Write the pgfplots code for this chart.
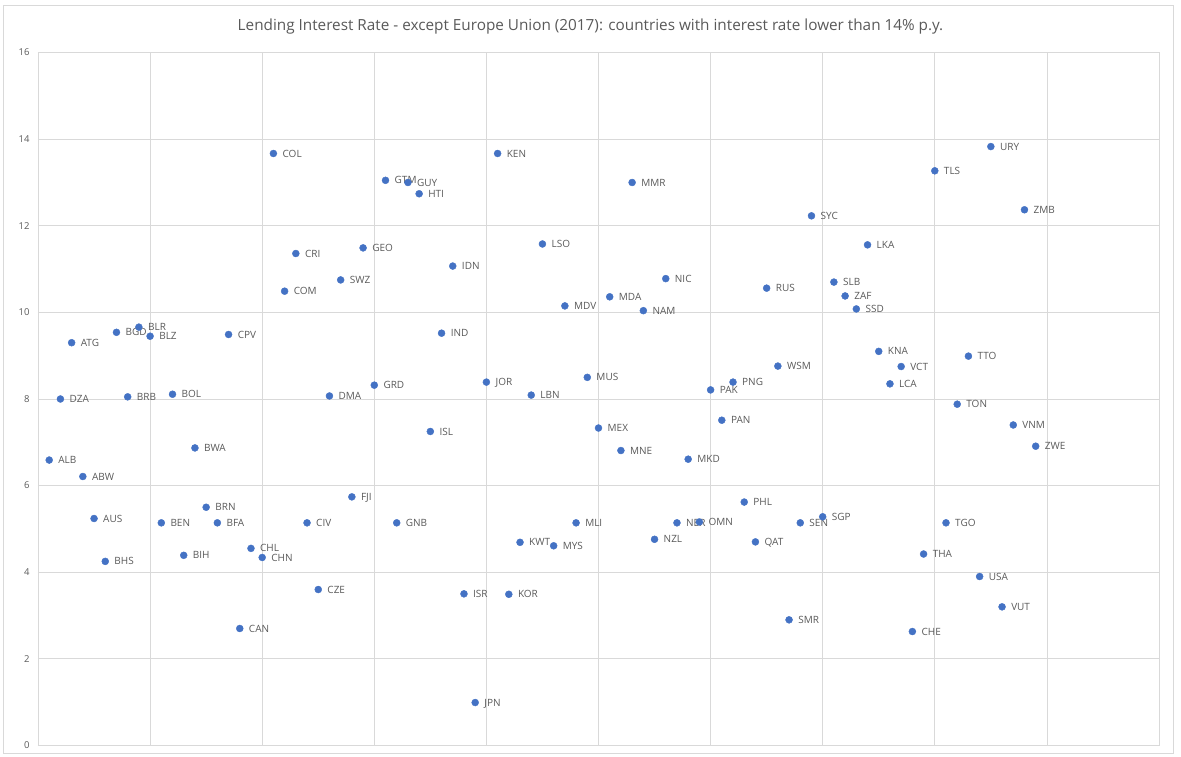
\documentclass[border=0pt]{standalone}
\usepackage{pgfplots}
\pgfplotsset{compat=1.18}
\usepackage{pgfplotstable}
\usepackage{fontspec}
\setmainfont{Open Sans}
\definecolor{ptblue}{HTML}{4472C4}
\definecolor{txtgray}{HTML}{595959}
\definecolor{gridgray}{HTML}{D9D9D9}
\pgfplotstableread{
x y lab
1 6.59 ALB
2 8.00 DZA
3 9.30 ATG
4 6.21 ABW
5 5.24 AUS
6 4.25 BHS
7 9.54 BGD
8 8.05 BRB
9 9.66 BLR
10 9.45 BLZ
11 5.14 BEN
12 8.11 BOL
13 4.39 BIH
14 6.87 BWA
15 5.50 BRN
16 5.14 BFA
17 9.49 CPV
18 2.70 CAN
19 4.55 CHL
20 4.34 CHN
21 13.67 COL
22 10.49 COM
23 11.36 CRI
24 5.14 CIV
25 3.60 CZE
26 8.07 DMA
27 10.75 SWZ
28 5.74 FJI
29 11.49 GEO
30 8.32 GRD
31 13.05 GTM
32 5.14 GNB
33 13.00 GUY
34 12.74 HTI
35 7.25 ISL
36 9.52 IND
37 11.07 IDN
38 3.50 ISR
39 0.99 JPN
40 8.39 JOR
41 13.67 KEN
42 3.49 KOR
43 4.69 KWT
44 8.09 LBN
45 11.58 LSO
46 4.61 MYS
47 10.15 MDV
48 5.14 MLI
49 8.50 MUS
50 7.33 MEX
51 10.36 MDA
52 6.81 MNE
53 13.00 MMR
54 10.04 NAM
55 4.76 NZL
56 10.78 NIC
57 5.14 NER
58 6.61 MKD
59 5.16 OMN
60 8.21 PAK
61 7.51 PAN
62 8.39 PNG
63 5.62 PHL
64 4.70 QAT
65 10.56 RUS
66 8.76 WSM
67 2.90 SMR
68 5.14 SEN
69 12.23 SYC
70 5.28 SGP
71 10.70 SLB
72 10.38 ZAF
73 10.08 SSD
74 11.56 LKA
75 9.10 KNA
76 8.35 LCA
77 8.75 VCT
78 2.63 CHE
79 4.42 THA
80 13.27 TLS
81 5.14 TGO
82 7.88 TON
83 8.99 TTO
84 3.90 USA
85 13.83 URY
86 3.20 VUT
87 7.40 VNM
88 12.37 ZMB
89 6.91 ZWE
}\datatable
\begin{document}
\begin{tikzpicture}[x=1pt,y=1pt]
\path[use as bounding box] (0,0) rectangle (1181,756);
\draw[gridgray, line width=0.75pt] (3,3) rectangle (1173,751);
\node[text=txtgray, font=\fontsize{15.3}{18}\selectfont] at (590.5,729) {Lending Interest Rate - except Europe Union (2017): countries with interest rate lower than 14\% p.y.};
\begin{axis}[
  at={(38pt,10.6pt)}, anchor=south west,
  scale only axis, width=1121pt, height=692.8pt,
  xmin=0, xmax=100, ymin=0, ymax=16,
  xtick={10,20,...,100}, xticklabels={},
  ytick={0,2,...,16},
  major tick length=0pt,
  xmajorgrids, ymajorgrids,
  grid style={gridgray, line width=0.75pt},
  axis line style={gridgray, line width=0.75pt},
  /pgf/number format/assume math mode=true,
  yticklabel style={font=\fontsize{9.5}{11}\selectfont, text=txtgray, xshift=-5pt},
  clip=false,
]
\addplot[only marks, mark=*, mark size=3.5pt, mark options={fill=ptblue, draw=ptblue},
  point meta=explicit symbolic,
  nodes near coords={\pgfplotspointmeta},
  nodes near coords align={horizontal},
  every node near coord/.append style={anchor=west, xshift=9pt, inner sep=0pt,
    text height=7.1pt, text depth=0pt,
    font=\fontsize{10}{12}\selectfont, text=txtgray}]
  table[x=x, y=y, meta=lab] {\datatable};
\end{axis}
\end{tikzpicture}
\end{document}
